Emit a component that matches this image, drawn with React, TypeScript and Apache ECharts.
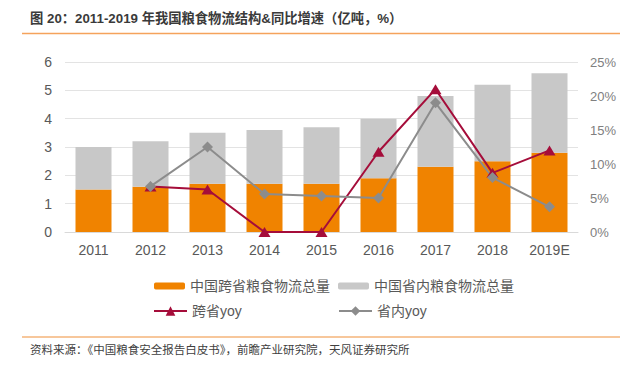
import React, { useEffect, useRef } from "react";
import * as echarts from "echarts";

const categories = ["2011", "2012", "2013", "2014", "2015", "2016", "2017", "2018", "2019E"];
const crossProvince = [1.5, 1.6, 1.7, 1.7, 1.7, 1.9, 2.3, 2.5, 2.8];
const inProvince = [1.5, 1.6, 1.8, 1.9, 2.0, 2.1, 2.5, 2.7, 2.8];
const crossYoy = [null, 6.7, 6.25, 0, 0, 11.8, 21.0, 8.7, 12.0];
const inYoy = [null, 6.7, 12.5, 5.6, 5.3, 5.0, 19.0, 8.0, 3.7];
const leftTicks = [0, 6, 1];
const rightTicks = [0, 25, 5];

const title = "图 20：2011-2019 年我国粮食物流结构&同比增速（亿吨，%）";
const source = "资料来源：《中国粮食安全报告白皮书》，前瞻产业研究院，天风证券研究所";

const FONT = "'Liberation Sans', 'Noto Sans CJK SC', sans-serif";
const ORANGE = "#F08300";
const GRAY = "#C8C8C8";
const RED = "#A50D3A";
const LGRAY = "#8C8C8C";
const TXT = "#595959";

export default function App() {
  const ref = useRef<HTMLDivElement>(null);
  useEffect(() => {
    const chart = echarts.init(ref.current!, null, { renderer: "svg" });
    const legendText = { color: TXT, fontSize: 14, fontFamily: FONT };
    chart.setOption({
      animation: false,
      textStyle: { fontFamily: FONT },
      grid: { left: 65, right: 51, top: 62, bottom: 139 },
      legend: [
        { data: ["中国跨省粮食物流总量"], left: 149, top: 274, itemWidth: 31, itemHeight: 7, textStyle: legendText, selectedMode: false },
        { data: ["中国省内粮食物流总量"], left: 333, top: 274, itemWidth: 31, itemHeight: 7, textStyle: legendText, selectedMode: false },
        { data: ["跨省yoy"], left: 148, top: 299, itemWidth: 33, itemHeight: 12, textStyle: legendText, selectedMode: false },
        { data: ["省内yoy"], left: 333, top: 299, itemWidth: 33, itemHeight: 12, textStyle: legendText, selectedMode: false },
      ],
      xAxis: {
        type: "category",
        data: categories,
        axisLine: { lineStyle: { color: "#D9D9D9", width: 1 } },
        axisTick: { show: false },
        axisLabel: { color: TXT, fontSize: 14, margin: 11, fontFamily: FONT },
      },
      yAxis: [
        {
          type: "value",
          min: leftTicks[0],
          max: leftTicks[1],
          interval: leftTicks[2],
          axisLine: { show: false },
          axisTick: { show: false },
          axisLabel: { color: TXT, fontSize: 14, margin: 13, fontFamily: FONT },
          splitLine: { lineStyle: { color: "#E3E3E3", width: 1 } },
        },
        {
          type: "value",
          min: rightTicks[0],
          max: rightTicks[1],
          interval: rightTicks[2],
          axisLine: { show: false },
          axisTick: { show: false },
          axisLabel: { color: "#808080", fontSize: 13, margin: 12, formatter: "{value}%", fontFamily: FONT },
          splitLine: { show: false },
        },
      ],
      series: [
        {
          name: "中国跨省粮食物流总量",
          type: "bar",
          stack: "total",
          data: crossProvince,
          barWidth: 36,
          itemStyle: { color: ORANGE },
        },
        {
          name: "中国省内粮食物流总量",
          type: "bar",
          stack: "total",
          data: inProvince,
          barWidth: 36,
          itemStyle: { color: GRAY },
        },
        {
          name: "跨省yoy",
          type: "line",
          yAxisIndex: 1,
          data: crossYoy,
          symbol: "triangle",
          symbolSize: [12, 10],
          lineStyle: { color: RED, width: 2 },
          itemStyle: { color: RED },
        },
        {
          name: "省内yoy",
          type: "line",
          yAxisIndex: 1,
          data: inYoy,
          symbol: "diamond",
          symbolSize: 11,
          lineStyle: { color: LGRAY, width: 2 },
          itemStyle: { color: LGRAY },
        },
      ],
      graphic: [
        {
          type: "text",
          left: 30,
          top: 12,
          style: { text: title, fontSize: 13.3, fontWeight: "bold", fill: "#3A3A3A", fontFamily: FONT },
        },
        {
          type: "line",
          shape: { x1: 22, y1: 33.5, x2: 620, y2: 33.5 },
          style: { stroke: "#F5A35C", lineWidth: 1.5 },
        },
        {
          type: "line",
          shape: { x1: 22, y1: 337, x2: 620, y2: 337 },
          style: { stroke: "#F5B57A", lineWidth: 1.5 },
        },
        {
          type: "text",
          left: 30,
          top: 344,
          style: { text: source, fontSize: 11.5, fill: "#404040", fontFamily: FONT },
        },
      ],
    });
    return () => chart.dispose();
  }, []);
  return <div ref={ref} style={{ width: 629, height: 371, position: "absolute", left: 0, top: 0 }} />;
}
